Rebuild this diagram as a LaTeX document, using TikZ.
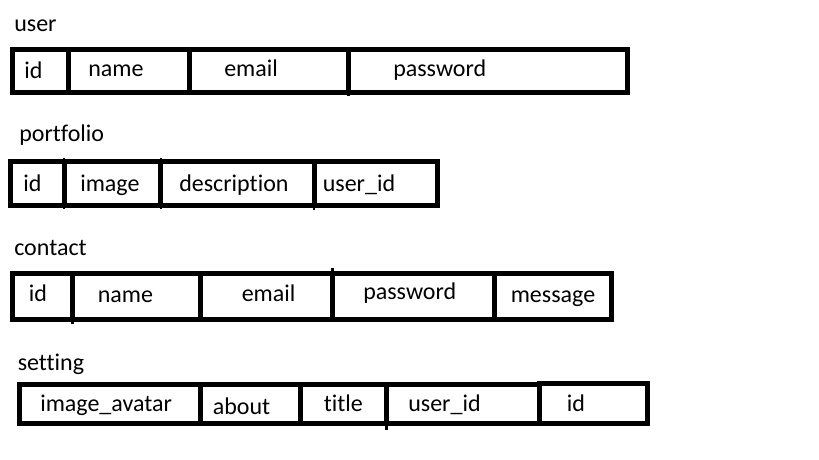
\documentclass[tikz,border=0pt]{standalone}
\usepackage{fontspec}
\setmainfont{Carlito}[Ligatures={NoCommon}]
\begin{document}
\begin{tikzpicture}[x=0.75pt,y=-0.75pt,
  tbl/.style={line width=3.75pt},
  stub/.style={line width=1.6pt},
  lbl/.style={anchor=base west,inner sep=0pt,font=\fontsize{18}{21}\selectfont}]
\useasboundingbox[fill=white] (0,0) rectangle (819,460);
% ---------- user ----------
\node[lbl] (uT) at (14,31.7) {user};
\coordinate (uA) at (12.5,49.2);
\coordinate (uB) at (627.5,92.5);
\draw[tbl] (uA) rectangle (uB);
\draw[tbl] (68.2,49.2) -- (68.2,92.5);
\draw[tbl] (189.5,49.2) -- (189.5,92.5);
\draw[tbl] (348.5,49.2) -- (348.5,92.5);
\draw[stub] (348.5,92.5) -- (348.5,96);
\node[lbl] (u1) at (24,78.3) {id};
\node[lbl] (u2) at (88,76.7) {name};
\node[lbl] (u3) at (224,76.7) {email};
\node[lbl] (u4) at (393,76.7) {password};
% ---------- portfolio ----------
\node[lbl] (pT) at (19,141.7) {portfolio};
\coordinate (pA) at (10.8,161.8);
\coordinate (pB) at (437.5,205.8);
\draw[tbl] (pA) rectangle (pB);
\draw[tbl] (64.2,161.8) -- (64.2,205.8);
\draw[tbl] (160.8,161.8) -- (160.8,205.8);
\draw[tbl] (314.2,161.8) -- (314.2,205.8);
\draw[stub] (64.2,158.3) -- (64.2,209.3);
\draw[stub] (160.8,158.3) -- (160.8,209.3);
\draw[stub] (314.2,205.8) -- (314.2,210);
\node[lbl] (p1) at (23,191.7) {id};
\node[lbl] (p2) at (80,191.7) {image};
\node[lbl] (p3) at (179,191.7) {description};
\node[lbl] (p4) at (322.5,191.7) {user\_id};
% ---------- contact ----------
\node[lbl] (cT) at (14,255) {contact};
\coordinate (cA) at (12.5,273.2);
\coordinate (cB) at (611.8,319.8);
\draw[tbl] (cA) rectangle (cB);
\draw[tbl] (72.5,273.2) -- (72.5,319.8);
\draw[tbl] (200.8,273.2) -- (200.8,319.8);
\draw[tbl] (332.5,273.2) -- (332.5,319.8);
\draw[tbl] (494.2,273.2) -- (494.2,319.8);
\draw[stub] (72.5,319.8) -- (72.5,324);
\draw[stub] (332.5,268.3) -- (332.5,273.2);
\node[lbl] (c1) at (28.5,301.7) {id};
\node[lbl] (c2) at (97.5,302.7) {name};
\node[lbl] (c3) at (241.5,301.7) {email};
\node[lbl] (c4) at (363,300) {password};
\node[lbl] (c5) at (510.5,302.7) {message};
% ---------- setting ----------
\node[lbl] (sT) at (17.5,370) {setting};
\coordinate (sA) at (19.2,384.8);
\coordinate (sB) at (539.8,423.5);
\coordinate (sC) at (539.8,383.5);
\coordinate (sD) at (647.5,423.5);
\draw[tbl] (sA) rectangle (sB);
\draw[tbl] (sC) rectangle (sD);
\draw[tbl] (200.8,384.8) -- (200.8,423.5);
\draw[tbl] (300.8,384.8) -- (300.8,423.5);
\draw[tbl] (386.5,384.8) -- (386.5,423.5);
\draw[stub] (386.5,423.5) -- (386.5,430);
\node[lbl] (s1) at (40,411.7) {image\_avatar};
\node[lbl] (s2) at (212.5,414.3) {about};
\node[lbl] (s3) at (323.5,411.7) {title};
\node[lbl] (s4) at (408,411.7) {user\_id};
\node[lbl] (s5) at (566.5,411.7) {id};
\end{tikzpicture}
\end{document}
